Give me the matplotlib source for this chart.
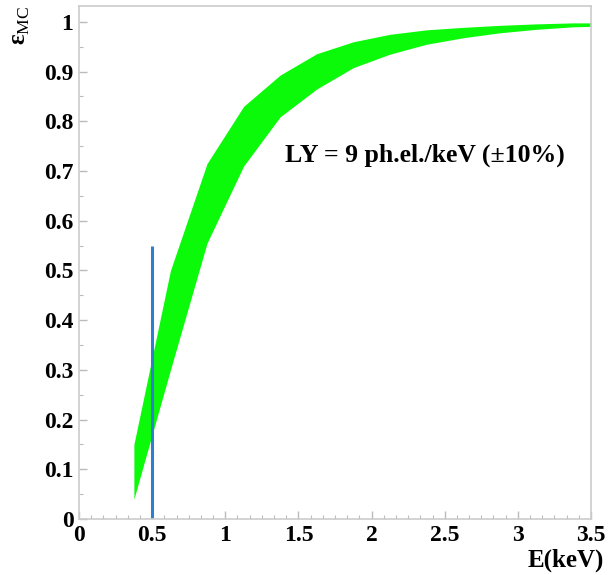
import matplotlib
matplotlib.use("Agg")
import matplotlib.pyplot as plt
from matplotlib.ticker import MultipleLocator, FormatStrFormatter

# Energia (keV) e limites da banda de eficiencia
energia = [0.375, 0.625, 0.875, 1.125, 1.375, 1.625, 1.875, 2.125,
           2.375, 2.625, 2.875, 3.125, 3.375, 3.5]
eff_sup = [0.150, 0.500, 0.715, 0.830, 0.893, 0.936, 0.960, 0.975,
           0.984, 0.989, 0.993, 0.996, 0.998, 0.998]
eff_inf = [0.040, 0.300, 0.555, 0.710, 0.809, 0.865, 0.908, 0.935,
           0.955, 0.968, 0.978, 0.985, 0.990, 0.991]

limiar_x = 0.5
limiar_y = 0.55
rotulo = "LY = 9 ph.el./keV (\u00b110%)"

plt.rcParams['font.family'] = ['Liberation Serif', 'DejaVu Serif']
plt.rcParams['mathtext.fontset'] = 'custom'
plt.rcParams['mathtext.rm'] = 'Liberation Serif'

fig = plt.figure(figsize=(6.15, 5.75), dpi=100)
ax = fig.add_axes([0.1285, 0.0974, 0.8325, 0.8922])

ax.fill_between(energia, eff_inf, eff_sup, color='#0afa0a', linewidth=0)
ax.plot([limiar_x, limiar_x], [0, limiar_y], color='#2f7fd0', linewidth=2.2,
        solid_capstyle='butt')

ax.set_xlim(0, 3.5)
ax.set_ylim(0, 1.032)

ax.xaxis.set_major_locator(MultipleLocator(0.5))
ax.xaxis.set_minor_locator(MultipleLocator(0.5 / 6))
ax.yaxis.set_major_locator(MultipleLocator(0.1))
ax.yaxis.set_minor_locator(MultipleLocator(0.05))
ax.xaxis.set_major_formatter(FormatStrFormatter('%g'))
ax.yaxis.set_major_formatter(FormatStrFormatter('%g'))

for s in ax.spines.values():
    s.set_color('#cccccc')
    s.set_linewidth(1.2)
ax.tick_params(which='both', direction='in', colors='#bbbbbb',
               labelcolor='black', top=False, right=False)
ax.tick_params(which='major', length=6, width=1, labelsize=17, pad=4)
ax.tick_params(which='minor', length=3, width=0.8)
for lab in ax.get_xticklabels() + ax.get_yticklabels():
    lab.set_fontweight('bold')

ax.text(1.41, 0.732, rotulo, fontsize=18.5, fontweight='bold',
        ha='left', va='center')

ax.text(1.025, -0.058, "E(keV)", transform=ax.transAxes, fontsize=18,
        fontweight='bold', ha='right', va='top')
ax.text(-0.115, 1.0, "\u03b5$_{\\mathrm{MC}}$", transform=ax.transAxes,
        fontsize=18, fontweight='bold', rotation=90, ha='center', va='top')

fig.savefig("out.png", dpi=100)
